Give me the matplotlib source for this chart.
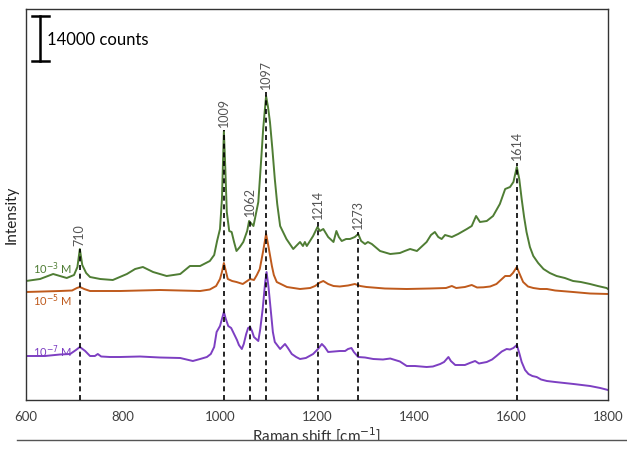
import matplotlib
matplotlib.use("Agg")
import matplotlib.pyplot as plt
from matplotlib.lines import Line2D
from matplotlib.patches import Rectangle

plt.rcParams['font.family'] = ['Lato', 'DejaVu Sans']

# ---- data (Raman shift in cm-1, intensity in plot units; 45 units = 14000 counts) ----
green_x = [600, 629, 656, 684, 699, 706, 711, 716, 724, 732, 753, 779, 808, 825, 841, 862, 890, 918,
           938, 959, 979, 988, 994, 1000, 1004, 1008, 1011, 1014, 1019, 1024, 1029, 1034, 1041, 1048,
           1056, 1060, 1069, 1074, 1079, 1085, 1089, 1095, 1099, 1103, 1108, 1113, 1118, 1124, 1137,
           1151, 1159, 1165, 1171, 1175, 1179, 1192, 1201, 1206, 1213, 1223, 1234, 1240, 1245, 1251,
           1260, 1268, 1278, 1285, 1291, 1299, 1305, 1313, 1330, 1351, 1371, 1381, 1392, 1406, 1426,
           1435, 1443, 1450, 1457, 1464, 1471, 1478, 1491, 1509, 1519, 1528, 1536, 1550, 1563, 1577,
           1588, 1598, 1605, 1612, 1617, 1622, 1627, 1632, 1639, 1646, 1656, 1667, 1680, 1694, 1711,
           1728, 1744, 1763, 1779, 1797, 1800]
green_y = [119, 121, 126, 122, 125, 133, 151, 135, 127, 123, 121, 120, 126, 131, 133, 128, 124, 126,
           134, 134, 139, 145, 159, 171, 201, 269, 231, 188, 169, 168, 158, 149, 153, 158,
           169, 179, 174, 186, 198, 241, 271, 304, 293, 278, 251, 221, 196, 174, 161,
           151, 155, 158, 154, 158, 154, 164, 173, 169, 171, 163, 158, 169, 163, 159,
           161, 161, 163, 166, 159, 156, 158, 156, 149, 146, 147, 149, 151, 149, 158,
           165, 168, 163, 161, 165, 164, 163, 166, 171, 174, 184, 178, 179, 184, 196,
           211, 213, 218, 233, 221, 201, 183, 168, 153, 144, 137, 131, 127, 124, 122,
           119, 118, 116, 114, 112, 111]

orange_x = [600, 670, 695, 705, 711, 720, 732, 794, 876, 959, 979, 992, 1000, 1004, 1008, 1012, 1016,
            1025, 1034, 1047, 1056, 1062, 1070, 1076, 1082, 1089, 1095, 1099, 1107, 1111, 1117, 1138,
            1165, 1186, 1196, 1206, 1213, 1223, 1234, 1247, 1264, 1278, 1289, 1302, 1340, 1385, 1433,
            1466, 1478, 1487, 1505, 1519, 1530, 1543, 1557, 1570, 1579, 1588, 1598, 1604, 1612, 1617,
            1625, 1635, 1646, 1660, 1674, 1691, 1728, 1763, 1800]
orange_y = [108, 109, 109.5, 112, 113, 111, 109, 109, 110, 109, 110.5, 114, 121, 128, 137, 129, 121,
            119, 118, 116, 119, 121, 120, 125, 131, 149, 166, 156, 134, 125, 118, 113,
            111, 112, 114, 117.5, 119, 116, 114, 113.5, 114.5, 116, 114, 113, 111.5, 111, 111.5,
            112, 114, 112, 113, 115, 112.5, 112.7, 113.5, 116, 120, 124, 124, 127, 133, 127,
            118, 113.5, 112, 111, 111, 109.5, 108, 106.5, 106]

purple_x = [600, 639, 670, 691, 703, 711, 722, 732, 742, 748, 755, 773, 794, 835, 876, 918, 944, 959,
            973, 981, 988, 993, 1000, 1004, 1008, 1012, 1017, 1023, 1027, 1035, 1039, 1045, 1049,
            1054, 1058, 1062, 1066, 1070, 1079, 1083, 1088, 1093, 1096, 1100, 1105, 1109, 1113, 1124,
            1130, 1134, 1140, 1148, 1157, 1165, 1177, 1192, 1202, 1210, 1216, 1223, 1235, 1247, 1258,
            1264, 1271, 1276, 1285, 1299, 1316, 1336, 1351, 1361, 1371, 1385, 1402, 1426, 1439, 1454,
            1462, 1471, 1476, 1485, 1505, 1515, 1526, 1534, 1550, 1561, 1570, 1581, 1591, 1598, 1605,
            1612, 1617, 1622, 1629, 1636, 1644, 1653, 1662, 1674, 1691, 1729, 1763, 1784, 1800]
purple_y = [44, 44, 45.5, 46, 50, 53, 49, 44, 44, 46, 43.5, 43, 43, 43.5, 42.5, 42, 39, 41,
            43, 46, 53, 68, 74, 81, 88, 81, 74, 72, 68, 60, 55, 51, 56,
            66, 72, 73, 69, 63, 59, 71, 91, 117, 128, 113, 88, 68, 58, 51,
            54, 56, 52, 46, 43, 41, 42, 46, 51, 56, 53, 48, 48.5, 49, 49,
            51, 52, 48, 43, 42.5, 41, 40.5, 41.5, 40, 38.5, 34, 34, 33, 33.5, 36,
            38, 43, 39, 35, 35, 37, 39, 36.5, 38, 40.5, 44, 48.5, 51, 50.5, 52,
            55, 47, 38, 30, 26, 24, 23, 20.5, 19, 18, 16, 14, 12, 10]

series_names = [r'10$^{-3}$ M', r'10$^{-5}$ M', r'10$^{-7}$ M']
series_colors = ['#4f7d34', '#bf5a1c', '#7d3fc2']
series_label_y = [132, 100, 49]

peak_labels = ['710', '1009', '1062', '1097', '1214', '1273', '1614']
peak_line_x = [711, 1008, 1061, 1095, 1202, 1285, 1612]
peak_line_top = [151, 270, 181, 308, 178, 168, 237]

x_ticks = [600, 800, 1000, 1200, 1400, 1600, 1800]
scale_bar_counts = 14000
counts_per_unit = 311

# ---- figure ----
fig = plt.figure(figsize=(6.27, 4.56), dpi=100)
ax = fig.add_axes([26/627, 1-401/456, (608-26)/627, (401-10)/456])
ax.set_xlim(600, 1800)
ax.set_ylim(0, 391)

for xs, ys, c in zip([green_x, orange_x, purple_x], [green_y, orange_y, purple_y], series_colors):
    ax.plot(xs, ys, color=c, lw=1.4, zorder=2, solid_joinstyle='round')

for name, c, yy in zip(series_names, series_colors, series_label_y):
    ax.text(614, yy, name, color=c, fontsize=8, va='center', ha='left', zorder=4)

for lab, lx, top in zip(peak_labels, peak_line_x, peak_line_top):
    ax.plot([lx, lx], [0, top], color='black', lw=1.2, linestyle=(0, (3, 2.2)), zorder=3)
    ax.text(lx, top + 4, lab, rotation=90, ha='center', va='bottom', fontsize=9,
            color='#555555', zorder=4)

# scale bar
bar_len = scale_bar_counts / counts_per_unit
bar_x, bar_top = 629, 384
ax.plot([bar_x, bar_x], [bar_top, bar_top - bar_len], color='black', lw=1.8, zorder=4)
ax.plot([612, 647], [bar_top, bar_top], color='black', lw=1.8, zorder=4)
ax.plot([612, 647], [bar_top - bar_len, bar_top - bar_len], color='black', lw=1.8, zorder=4)
ax.text(643, bar_top - bar_len / 2, f'{scale_bar_counts} counts', fontsize=12, va='center',
        ha='left', color='black')

ax.set_xticks(x_ticks)
ax.set_yticks([])
ax.tick_params(axis='x', length=0, pad=7, labelsize=9.5, labelcolor='#404040')
for s in ax.spines.values():
    s.set_color('#333333')
    s.set_linewidth(1.0)

ax.set_ylabel('Intensity', fontsize=11, color='#222222')
ax.yaxis.set_label_coords(-0.012, 0.476)
ax.set_xlabel('Raman shift [cm$^{-1}$]', fontsize=11, color='#333333')
ax.xaxis.set_label_coords(0.5, -(435 - 401) / 391)
ax.xaxis.label.set_va('center')

# bottom rule (cropped label as in the reference)
fig.patches.append(Rectangle((0, 0), 1, 1 - 441/456, transform=fig.transFigure,
                             facecolor='white', edgecolor='none', zorder=5))
fig.lines.append(Line2D([17/627, 1], [1 - 441/456, 1 - 441/456], transform=fig.transFigure,
                        color='#555555', lw=1.0, zorder=6))

fig.savefig('out.png', dpi=100)
